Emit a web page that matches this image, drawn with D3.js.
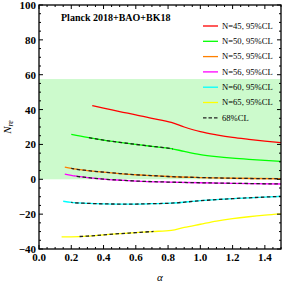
<!DOCTYPE html>
<html>
<head>
<meta charset="utf-8">
<script src="https://cdn.jsdelivr.net/npm/d3@7"></script>
<style>
  body { margin: 0; background: #fff; }
  svg { display: block; }
</style>
</head>
<body>
<div id="chart"></div>
<script>
// alpha grid + N_re values
var alphaN45 = [0.33, 0.4, 0.5, 0.6, 0.7, 0.82, 0.9, 1.0, 1.1, 1.2, 1.3, 1.4, 1.5];
var nreN45   = [42.3, 40.8, 38.8, 37.0, 35.0, 32.6, 30.0, 27.3, 25.5, 24.0, 22.9, 21.9, 21.0];

var alphaN50 = [0.2, 0.3, 0.4, 0.5, 0.6, 0.7, 0.82, 0.9, 1.0, 1.1, 1.2, 1.3, 1.4, 1.5];
var nreN50   = [25.8, 24.0, 22.5, 21.2, 20.0, 18.9, 17.6, 16.0, 14.2, 13.0, 12.1, 11.4, 10.8, 10.3];

var alphaN55 = [0.16, 0.2, 0.3, 0.4, 0.5, 0.6, 0.7, 0.8, 1.0, 1.2, 1.5];
var nreN55   = [7.0, 6.2, 5.0, 4.1, 3.3, 2.6, 2.1, 1.6, 1.0, 0.6, 0.3];

var alphaN56 = [0.16, 0.2, 0.3, 0.4, 0.5, 0.6, 0.8, 1.0, 1.2, 1.5];
var nreN56   = [3.0, 2.2, 1.0, 0.1, -0.5, -1.0, -1.6, -2.0, -2.3, -2.7];

var alphaN60 = [0.15, 0.2, 0.3, 0.4, 0.5, 0.6, 0.7, 0.82, 1.0, 1.2, 1.4, 1.5];
var nreN60   = [-12.6, -13.3, -13.8, -14.1, -14.2, -14.2, -14.0, -13.7, -12.3, -11.1, -10.2, -9.8];

var alphaN65 = [0.14, 0.2, 0.3, 0.4, 0.5, 0.6, 0.7, 0.82, 0.9, 1.0, 1.1, 1.2, 1.3, 1.4, 1.5];
var nreN65   = [-33.1, -33.0, -32.6, -31.9, -31.2, -30.6, -30.0, -29.3, -27.6, -25.8, -24.0, -22.6, -21.5, -20.6, -19.9];

// alpha range covered by the 68% CL (dashed) part of each curve
var range68 = [null, [0.3, 0.83], [0.2, 1.5], [0.22, 1.5], [0.2, 1.5], [0.24, 0.71]];

var seriesNames  = ["N=45, 95%CL", "N=50, 95%CL", "N=55, 95%CL", "N=56, 95%CL", "N=60, 95%CL", "N=65, 95%CL"];
var seriesColors = ["#ff0000", "#00ff00", "#ff8000", "#ff00ff", "#00ffff", "#ffff00"];

var bandRange = [0, 57.5];   // shaded green region in N_re
var xTicks = [0.0, 0.2, 0.4, 0.6, 0.8, 1.0, 1.2, 1.4];
var yTicks = [-40, -20, 0, 20, 40, 60, 80, 100];

var W = 286, H = 287;
var pL = 39, pR = 281, pT = 5, pB = 249;

var x = d3.scaleLinear().domain([0, 1.5]).range([pL, pR]);
var y = d3.scaleLinear().domain([-40, 100]).range([pB, pT]);

var svg = d3.select("#chart").append("svg").attr("width", W).attr("height", H);
var defs = svg.append("defs");

defs.append("clipPath").attr("id", "plotClip")
  .append("rect").attr("x", pL).attr("y", pT)
  .attr("width", pR - pL).attr("height", pB - pT);

// band
svg.append("rect")
  .attr("x", pL).attr("width", pR - pL)
  .attr("y", y(bandRange[1])).attr("height", y(bandRange[0]) - y(bandRange[1]))
  .attr("fill", "#ccfacc");

var allAlpha = [alphaN45, alphaN50, alphaN55, alphaN56, alphaN60, alphaN65];
var allNre   = [nreN45, nreN50, nreN55, nreN56, nreN60, nreN65];

var line = d3.line()
  .x(function(d) { return x(d[0]); })
  .y(function(d) { return y(d[1]); })
  .curve(d3.curveMonotoneX);

var plot = svg.append("g").attr("clip-path", "url(#plotClip)");

var series = allAlpha.map(function(a, i) {
  return a.map(function(v, j) { return [v, allNre[i][j]]; });
});

series.forEach(function(pts, i) {
  plot.append("path").datum(pts)
    .attr("d", line).attr("fill", "none")
    .attr("stroke", seriesColors[i]).attr("stroke-width", 1.3);

  if (range68[i]) {
    var cid = "c68_" + i;
    defs.append("clipPath").attr("id", cid)
      .append("rect")
      .attr("x", x(range68[i][0])).attr("width", x(range68[i][1]) - x(range68[i][0]))
      .attr("y", pT).attr("height", pB - pT);
    plot.append("g").attr("clip-path", "url(#" + cid + ")")
      .append("path").datum(pts)
      .attr("d", line).attr("fill", "none")
      .attr("stroke", "#222").attr("stroke-width", 1.3)
      .attr("stroke-dasharray", "3.5,2.5");
  }
});

// frame + ticks (inward, on all four sides)
var axes = svg.append("g").attr("stroke", "#000");
axes.append("rect")
  .attr("x", pL).attr("y", pT)
  .attr("width", pR - pL).attr("height", pB - pT)
  .attr("fill", "none").attr("stroke-width", 1.3);

d3.range(0, 1.5001, 0.05).forEach(function(v) {
  var major = Math.abs(v / 0.2 - Math.round(v / 0.2)) < 1e-6;
  var len = major ? 4 : 2;
  axes.append("line").attr("x1", x(v)).attr("x2", x(v))
    .attr("y1", pB).attr("y2", pB - len).attr("stroke-width", 1);
  axes.append("line").attr("x1", x(v)).attr("x2", x(v))
    .attr("y1", pT).attr("y2", pT + len).attr("stroke-width", 1);
});
d3.range(-40, 100.001, 5).forEach(function(v) {
  var major = v % 20 === 0;
  var len = major ? 4 : 2;
  axes.append("line").attr("y1", y(v)).attr("y2", y(v))
    .attr("x1", pL).attr("x2", pL + len).attr("stroke-width", 1);
  axes.append("line").attr("y1", y(v)).attr("y2", y(v))
    .attr("x1", pR).attr("x2", pR - len).attr("stroke-width", 1);
});

var fontSerif = "'Liberation Serif', 'DejaVu Serif', serif";

svg.append("g").selectAll("text").data(xTicks).enter().append("text")
  .attr("x", function(d) { return x(d); })
  .attr("y", pB + 12)
  .attr("text-anchor", "middle")
  .attr("font-family", fontSerif).attr("font-weight", "bold").attr("font-size", 11)
  .text(function(d) { return d.toFixed(1); });

svg.append("g").selectAll("text").data(yTicks).enter().append("text")
  .attr("x", pL - 3)
  .attr("y", function(d) { return y(d) + 4; })
  .attr("text-anchor", "end")
  .attr("font-family", fontSerif).attr("font-weight", "bold").attr("font-size", 11)
  .text(function(d) { return d < 0 ? "\u2212" + Math.abs(d) : d; });

// axis labels
svg.append("text")
  .attr("x", x(0.75)).attr("y", 281)
  .attr("text-anchor", "middle")
  .attr("font-family", fontSerif).attr("font-style", "italic").attr("font-size", 11)
  .text("\u03b1");

var ylab = svg.append("text")
  .attr("transform", "translate(11," + y(30) + ") rotate(-90)")
  .attr("text-anchor", "middle")
  .attr("font-family", fontSerif).attr("font-style", "italic").attr("font-size", 11);
ylab.append("tspan").text("N");
ylab.append("tspan").attr("font-size", 8).attr("dy", 2).text("re");

// title
svg.append("text")
  .attr("x", 61).attr("y", 21)
  .attr("font-family", fontSerif).attr("font-weight", "bold").attr("font-size", 10)
  .text("Planck 2018+BAO+BK18");

// legend
var legendNames = seriesNames.concat(["68%CL"]);
var legend = svg.append("g");
legendNames.forEach(function(name, i) {
  var ly = 26 + i * 15.3;
  var l = legend.append("line")
    .attr("x1", 203).attr("x2", 218).attr("y1", ly).attr("y2", ly)
    .attr("stroke-width", 1.3);
  if (i < seriesColors.length) {
    l.attr("stroke", seriesColors[i]);
  } else {
    l.attr("stroke", "#222").attr("stroke-dasharray", "3.5,2");
  }
  legend.append("text")
    .attr("x", 222).attr("y", ly + 2.8)
    .attr("font-family", fontSerif).attr("font-size", 8.6)
    .text(name);
});
</script>
</body>
</html>
